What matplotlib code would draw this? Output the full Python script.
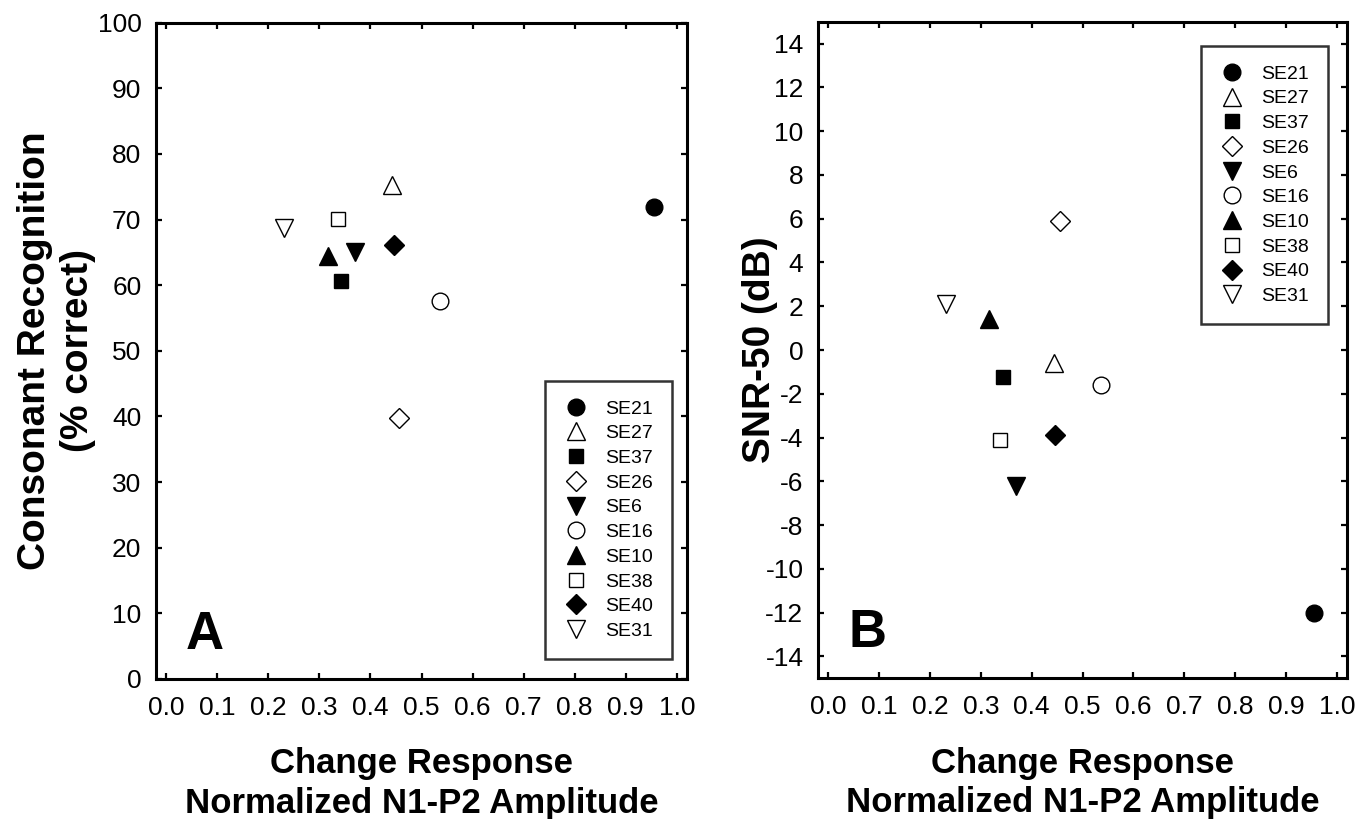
"""
Change-response N1-P2 amplitude vs. consonant recognition (A) and SNR-50 (B).
"""

import matplotlib

matplotlib.use("Agg")
import matplotlib.pyplot as plt
import numpy as np

plt.rcParams["font.family"] = ["Liberation Sans", "DejaVu Sans"]
plt.rcParams["axes.unicode_minus"] = False

# one entry per subject, same order everywhere
SUBJECTS = ["SE21", "SE27", "SE37", "SE26", "SE6", "SE16", "SE10", "SE38", "SE40", "SE31"]
N1P2_AMPLITUDE = [0.956, 0.443, 0.343, 0.456, 0.369, 0.536, 0.316, 0.337, 0.446, 0.231]
CONSONANT_PCT = [71.9, 75.2, 60.6, 39.8, 65.1, 57.6, 64.5, 70.1, 66.2, 68.7]
SNR50_DB = [-12.0, -0.6, -1.25, 5.9, -6.2, -1.6, 1.4, -4.1, -3.9, 2.1]

MARKERS = ["o", "^", "s", "D", "v", "o", "^", "s", "D", "v"]
FILLED = [True, False, True, False, True, False, True, False, True, False]
MARKER_SIZE = {"o": 12.0, "^": 12.5, "v": 12.5, "s": 10.5, "D": 10.0}

X_TICKS = np.round(np.arange(0.0, 1.01, 0.1), 1)
Y_TICKS_A = np.arange(0, 101, 10)
Y_TICKS_B = np.arange(-14, 15, 2)

W, H = 1359, 819


def px_rect(left, top, right, bottom):
    return [left / W, 1 - bottom / H, (right - left) / W, (bottom - top) / H]


def style_axes(ax):
    for sp in ax.spines.values():
        sp.set_linewidth(2.2)
    ax.tick_params(which="major", direction="in", length=4, width=1.6,
                   top=True, right=True, labelsize=19)
    ax.tick_params(axis="x", pad=12)
    ax.tick_params(axis="y", pad=10.5)
    ax.set_xticks(X_TICKS)
    ax.set_xticklabels([f"{t:.1f}" for t in X_TICKS])
    ax.set_xlim(-0.02, 1.02)


def scatter_subjects(ax, yvals):
    for name, x, y, m, filled in zip(SUBJECTS, N1P2_AMPLITUDE, yvals, MARKERS, FILLED):
        ax.plot(
            [x], [y], linestyle="none", marker=m, markersize=MARKER_SIZE[m],
            markerfacecolor="black" if filled else "white",
            markeredgecolor="black", markeredgewidth=1.0, label=name,
        )


fig = plt.figure(figsize=(W / 100, H / 100), dpi=100)
ax_a = fig.add_axes(px_rect(156, 22.7, 687, 679))
ax_b = fig.add_axes(px_rect(818, 21.7, 1347, 678.3))

xlabel = "Change Response\nNormalized N1-P2 Amplitude"
legend_kw = dict(
    numpoints=1, fontsize=14, frameon=True, fancybox=False, edgecolor="black",
    borderpad=0.98, labelspacing=0.365, handlelength=1.2, handletextpad=0.9,
    borderaxespad=0.0,
)

# panel A
style_axes(ax_a)
scatter_subjects(ax_a, CONSONANT_PCT)
ax_a.set_ylim(0, 100)
ax_a.set_yticks(Y_TICKS_A)
ax_a.set_ylabel("Consonant Recognition\n(% correct)", fontsize=28, fontweight="bold",
                linespacing=1.24)
ax_a.yaxis.set_label_coords(-0.113, 0.5)
ax_a.set_xlabel(xlabel, fontsize=25, fontweight="bold", linespacing=1.26)
ax_a.xaxis.set_label_coords(0.5, -0.104)
ax_a.text(0.055, 0.046, "A", transform=ax_a.transAxes, fontsize=38,
          fontweight="bold", va="baseline", ha="left")
leg = ax_a.legend(loc="lower right",
                  bbox_to_anchor=(672 / W, 1 - 659 / H),
                  bbox_transform=fig.transFigure, **legend_kw)
leg.get_frame().set_linewidth(1.8)

# panel B
style_axes(ax_b)
scatter_subjects(ax_b, SNR50_DB)
ax_b.set_ylim(-15, 15)
ax_b.set_yticks(Y_TICKS_B)
ax_b.set_ylabel("SNR-50 (dB)", fontsize=28, fontweight="bold")
ax_b.yaxis.set_label_coords(-0.076, 0.5)
ax_b.set_xlabel(xlabel, fontsize=25, fontweight="bold", linespacing=1.26)
ax_b.xaxis.set_label_coords(0.5, -0.104)
ax_b.text(0.057, 0.048, "B", transform=ax_b.transAxes, fontsize=38,
          fontweight="bold", va="baseline", ha="left")
leg = ax_b.legend(loc="upper right",
                  bbox_to_anchor=(1328 / W, 1 - 46 / H),
                  bbox_transform=fig.transFigure, **legend_kw)
leg.get_frame().set_linewidth(1.8)

fig.savefig("out.png", dpi=100)
